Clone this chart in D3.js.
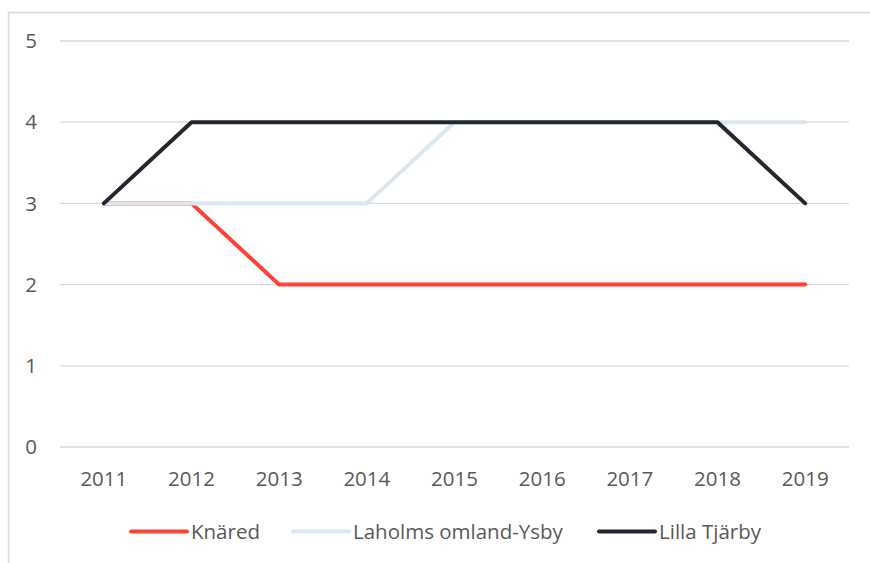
<!DOCTYPE html>
<html>
<head>
<meta charset="utf-8">
<script src="https://cdn.jsdelivr.net/npm/d3@7"></script>
<style>
  body { margin: 0; background: #fff; }
  svg text { font-family: "Open Sans", Lato, sans-serif; fill: #595959; }
</style>
</head>
<body>
<div id="chart"></div>
<script>
// Data
const YEARS = ["2011", "2012", "2013", "2014", "2015", "2016", "2017", "2018", "2019"];
const KNARED = [3, 3, 2, 2, 2, 2, 2, 2, 2];
const LAHOLMS = [3, 3, 3, 3, 4, 4, 4, 4, 4];
const LILLA_TJARBY = [3, 4, 4, 4, 4, 4, 4, 4, 3];
const Y_TICKS = [0, 1, 2, 3, 4, 5];

const SERIES = [
    { name: "Knäred", values: KNARED, color: "#FF4136" },
    { name: "Laholms omland-Ysby", values: LAHOLMS, color: "#DAE6F0" },
    { name: "Lilla Tjärby", values: LILLA_TJARBY, color: "#22282F" }
];

const W = 870, H = 563;
const plot = { left: 60, right: 849, top: 41, bottom: 447 };
const FONT = "20.5px";

const svg = d3.select("#chart").append("svg").attr("width", W).attr("height", H);

// chart border (cropped on the right and bottom)
svg.append("rect").attr("x", 8.5).attr("y", 12.5).attr("width", 900).attr("height", 600)
    .attr("fill", "none").attr("stroke", "#d9d9d9").attr("stroke-width", 1.5);

const x = d3.scalePoint().domain(YEARS).range([plot.left, plot.right]).padding(0.5);
const y = d3.scaleLinear().domain([0, 5]).range([plot.bottom, plot.top]);

// gridlines
svg.append("g").selectAll("line").data(Y_TICKS).enter().append("line")
    .attr("x1", plot.left).attr("x2", plot.right)
    .attr("y1", d => y(d)).attr("y2", d => y(d))
    .attr("stroke", "#d9d9d9").attr("stroke-width", 1.3);

// y labels
svg.append("g").selectAll("text").data(Y_TICKS).enter().append("text")
    .attr("x", 37).attr("y", d => y(d)).attr("dy", "0.35em")
    .attr("text-anchor", "end").style("font-size", FONT).text(d => d);

// x labels
svg.append("g").selectAll("text").data(YEARS).enter().append("text")
    .attr("x", d => x(d)).attr("y", 486)
    .attr("text-anchor", "middle").style("font-size", FONT).text(d => d);

// lines
const line = d3.line().x((d, i) => x(YEARS[i])).y(d => y(d));
SERIES.forEach(s => {
    svg.append("path").datum(s.values).attr("d", line)
        .attr("fill", "none").attr("stroke", s.color).attr("stroke-width", 4)
        .attr("stroke-linejoin", "round").attr("stroke-linecap", "round");
});

// legend
const legendX = [131, 293, 599];
const legend = svg.append("g").selectAll("g").data(SERIES).enter().append("g")
    .attr("transform", (d, i) => `translate(${legendX[i]},531.5)`);
legend.append("line").attr("x1", 0).attr("x2", 56)
    .attr("stroke", d => d.color).attr("stroke-width", 4).attr("stroke-linecap", "round");
legend.append("text").attr("x", 60).attr("dy", "0.35em").style("font-size", FONT).text(d => d.name);
</script>
</body>
</html>
